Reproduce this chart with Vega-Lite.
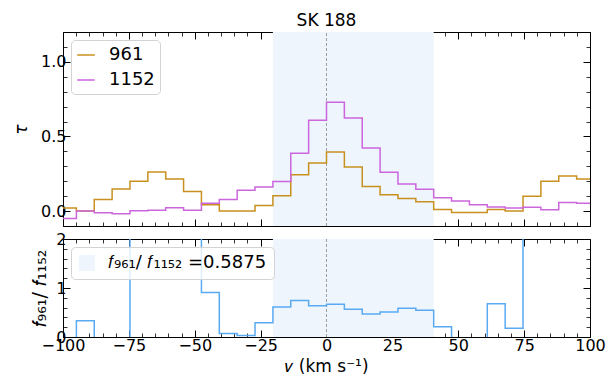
{
  "$schema": "https://vega.github.io/schema/vega-lite/v6.json",
  "background": "white",
  "padding": {"left": 12, "top": 11, "right": 5, "bottom": 0},
  "datasets": {
    "spec": [
      {"v": -101.7, "t961": 0.02, "t1152": -0.05, "ratio": -0.4},
      {"v": -94.92, "t961": 0.0, "t1152": 0.0, "ratio": 0.33},
      {"v": -88.14, "t961": 0.078, "t1152": -0.011, "ratio": -7.1},
      {"v": -81.36, "t961": 0.148, "t1152": -0.018, "ratio": -8.2},
      {"v": -74.58, "t961": 0.2, "t1152": 0.002, "ratio": 100},
      {"v": -67.8, "t961": 0.262, "t1152": 0.005, "ratio": 52},
      {"v": -61.02, "t961": 0.215, "t1152": 0.022, "ratio": 9.8},
      {"v": -54.24, "t961": 0.132, "t1152": 0.005, "ratio": 26},
      {"v": -47.46, "t961": 0.043, "t1152": 0.052, "ratio": 0.91},
      {"v": -40.68, "t961": 0.0, "t1152": 0.078, "ratio": 0.07},
      {"v": -33.9, "t961": 0.0, "t1152": 0.139, "ratio": 0.03},
      {"v": -27.12, "t961": 0.038, "t1152": 0.161, "ratio": 0.29},
      {"v": -20.34, "t961": 0.103, "t1152": 0.199, "ratio": 0.61},
      {"v": -13.56, "t961": 0.244, "t1152": 0.387, "ratio": 0.745},
      {"v": -6.78, "t961": 0.322, "t1152": 0.609, "ratio": 0.64},
      {"v": 0.0, "t961": 0.396, "t1152": 0.73, "ratio": 0.67},
      {"v": 6.78, "t961": 0.295, "t1152": 0.624, "ratio": 0.567},
      {"v": 13.56, "t961": 0.164, "t1152": 0.423, "ratio": 0.47},
      {"v": 20.34, "t961": 0.11, "t1152": 0.26, "ratio": 0.51},
      {"v": 27.12, "t961": 0.085, "t1152": 0.181, "ratio": 0.587},
      {"v": 33.9, "t961": 0.063, "t1152": 0.146, "ratio": 0.546},
      {"v": 40.68, "t961": 0.011, "t1152": 0.09, "ratio": 0.21},
      {"v": 47.46, "t961": -0.009, "t1152": 0.067, "ratio": -0.13},
      {"v": 54.24, "t961": -0.009, "t1152": 0.043, "ratio": -0.2},
      {"v": 61.02, "t961": 0.011, "t1152": 0.027, "ratio": 0.68},
      {"v": 67.8, "t961": 0.0, "t1152": 0.02, "ratio": 0.18},
      {"v": 74.58, "t961": 0.099, "t1152": 0.025, "ratio": 4.0},
      {"v": 81.36, "t961": 0.2, "t1152": 0.009, "ratio": 22},
      {"v": 88.14, "t961": 0.235, "t1152": 0.058, "ratio": 4.05},
      {"v": 94.92, "t961": 0.215, "t1152": 0.052, "ratio": 4.1},
      {"v": 101.7, "t961": 0.215, "t1152": 0.052, "ratio": 4.1}
    ],
    "win": [{"v1": -20.34, "v2": 40.68, "label": "𝑓₉₆₁/ 𝑓₁₁₅₂ =0.5875"}],
    "center": [{"v": 0}]
  },
  "config": {
    "font": "DejaVu Sans",
    "view": {"stroke": null},
    "axis": {
      "grid": false,
      "zindex": 1,
      "labelFlush": false,
      "labelOverlap": false,
      "domainColor": "#000",
      "domainWidth": 1,
      "tickColor": "#000",
      "tickWidth": 1,
      "labelFont": "DejaVu Sans",
      "labelFontSize": 16,
      "labelColor": "#000",
      "titleFont": "DejaVu Sans",
      "titleFontSize": 17,
      "titleFontWeight": "normal",
      "titleColor": "#000"
    },
    "legend": {
      "orient": "top-left",
      "title": null,
      "labelFont": "DejaVu Sans",
      "labelFontSize": 18,
      "labelColor": "#000",
      "strokeColor": "#d3d3d3",
      "fillColor": "rgba(255,255,255,0.8)",
      "cornerRadius": 4,
      "padding": 5,
      "offset": 8
    }
  },
  "resolve": {"scale": {"color": "independent", "fill": "independent"}, "legend": {"color": "independent", "fill": "independent"}},
  "spacing": 4,
  "vconcat": [
    {
      "width": 527,
      "height": 194,
      "title": {"text": "SK 188", "frame": "group", "fontSize": 17, "fontWeight": "normal", "font": "DejaVu Sans", "color": "#000", "offset": 2},
      "resolve": {"axis": {"x": "independent", "y": "independent"}},
      "layer": [
        {
          "data": {"name": "win"},
          "mark": {"type": "rect", "color": "#eef5fd"},
          "encoding": {
            "x": {"field": "v1", "type": "quantitative", "scale": {"domain": [-100, 100], "nice": false},
                  "axis": {"orient": "bottom", "values": [-100, -75, -50, -25, 0, 25, 50, 75, 100], "labels": false, "tickSize": -7, "title": null}},
            "x2": {"field": "v2"},
            "y": {"datum": -0.1, "type": "quantitative", "scale": {"domain": [-0.1, 1.2], "nice": false},
                  "axis": {"orient": "left", "values": [0, 0.5, 1], "format": ".1f", "tickSize": -7, "labelPadding": 4, "title": "τ", "titleFontStyle": "italic", "titlePadding": 10}},
            "y2": {"datum": 1.2}
          }
        },
        {
          "data": {"name": "center"},
          "mark": {"type": "rule", "color": "#888888", "strokeWidth": 0.8, "strokeDash": [3, 2]},
          "encoding": {
            "x": {"field": "v", "type": "quantitative",
                  "axis": {"orient": "top", "values": [-100, -75, -50, -25, 0, 25, 50, 75, 100], "labels": false, "tickSize": -7, "title": null}},
            "y": {"datum": -0.1, "type": "quantitative",
                  "axis": {"orient": "right", "values": [0, 0.5, 1], "labels": false, "tickSize": -7, "title": null}},
            "y2": {"datum": 1.2}
          }
        },
        {
          "data": {"name": "spec"},
          "mark": {"type": "line", "interpolate": "step-after", "strokeWidth": 1.5, "clip": true},
          "encoding": {
            "x": {"field": "v", "type": "quantitative",
                  "axis": {"orient": "bottom", "values": [-95, -90, -85, -80, -70, -65, -60, -55, -45, -40, -35, -30, -20, -15, -10, -5, 5, 10, 15, 20, 30, 35, 40, 45, 55, 60, 65, 70, 80, 85, 90, 95], "labels": false, "domain": false, "tickSize": -4, "tickWidth": 0.8, "title": null}},
            "y": {"field": "t961", "type": "quantitative",
                  "axis": {"orient": "left", "values": [-0.1, 0.1, 0.2, 0.3, 0.4, 0.6, 0.7, 0.8, 0.9, 1.1, 1.2], "labels": false, "domain": false, "tickSize": -4, "tickWidth": 0.8, "title": null}},
            "color": {"datum": "961", "type": "nominal",
                      "scale": {"domain": ["961", "1152"], "range": ["#c8901e", "#cc66dd"]},
                      "legend": {"symbolType": "stroke", "symbolSize": 310, "symbolStrokeWidth": 1.5, "labelOffset": 13, "rowPadding": 6}}
          }
        },
        {
          "data": {"name": "spec"},
          "mark": {"type": "line", "interpolate": "step-after", "strokeWidth": 1.5, "clip": true},
          "encoding": {
            "x": {"field": "v", "type": "quantitative",
                  "axis": {"orient": "top", "values": [-95, -90, -85, -80, -70, -65, -60, -55, -45, -40, -35, -30, -20, -15, -10, -5, 5, 10, 15, 20, 30, 35, 40, 45, 55, 60, 65, 70, 80, 85, 90, 95], "labels": false, "domain": false, "tickSize": -4, "tickWidth": 0.8, "title": null}},
            "y": {"field": "t1152", "type": "quantitative",
                  "axis": {"orient": "right", "values": [-0.1, 0.1, 0.2, 0.3, 0.4, 0.6, 0.7, 0.8, 0.9, 1.1, 1.2], "labels": false, "domain": false, "tickSize": -4, "tickWidth": 0.8, "title": null}},
            "color": {"datum": "1152", "type": "nominal"}
          }
        }
      ]
    },
    {
      "width": 527,
      "height": 98,
      "resolve": {"axis": {"x": "independent", "y": "independent"}},
      "layer": [
        {
          "data": {"name": "win"},
          "mark": {"type": "rect"},
          "encoding": {
            "x": {"field": "v1", "type": "quantitative", "scale": {"domain": [-100, 100], "nice": false},
                  "axis": {"orient": "bottom", "values": [-100, -75, -50, -25, 0, 25, 50, 75, 100], "format": ".0f", "tickSize": -7, "labelPadding": 7, "title": "𝑣 (km s⁻¹)", "titlePadding": 5}},
            "x2": {"field": "v2"},
            "y": {"datum": 0, "type": "quantitative", "scale": {"domain": [0, 2], "nice": false},
                  "axis": {"orient": "left", "values": [0, 1, 2], "format": ".0f", "labelOverlap": false, "labelBound": false, "tickSize": -7, "labelPadding": 4, "title": "𝑓₉₆₁/ 𝑓₁₁₅₂", "titleFontSize": 19, "titlePadding": 6}},
            "y2": {"datum": 2},
            "fill": {"field": "label", "type": "nominal", "scale": {"range": ["#eef5fd"]},
                     "legend": {"symbolType": "square", "symbolSize": 260, "labelOffset": 12, "symbolStrokeWidth": 0, "padding": 7}}
          }
        },
        {
          "data": {"name": "center"},
          "mark": {"type": "rule", "color": "#888888", "strokeWidth": 0.8, "strokeDash": [3, 2]},
          "encoding": {
            "x": {"field": "v", "type": "quantitative",
                  "axis": {"orient": "top", "values": [-100, -75, -50, -25, 0, 25, 50, 75, 100], "labels": false, "tickSize": -7, "title": null}},
            "y": {"datum": 0, "type": "quantitative",
                  "axis": {"orient": "right", "values": [0, 1, 2], "labels": false, "tickSize": -7, "title": null}},
            "y2": {"datum": 2}
          }
        },
        {
          "data": {"name": "spec"},
          "mark": {"type": "line", "interpolate": "step-after", "strokeWidth": 1.5, "clip": true, "color": "#5aaaf2"},
          "encoding": {
            "x": {"field": "v", "type": "quantitative",
                  "axis": {"orient": "bottom", "values": [-95, -90, -85, -80, -70, -65, -60, -55, -45, -40, -35, -30, -20, -15, -10, -5, 5, 10, 15, 20, 30, 35, 40, 45, 55, 60, 65, 70, 80, 85, 90, 95], "labels": false, "domain": false, "tickSize": -4, "tickWidth": 0.8, "title": null}},
            "y": {"field": "ratio", "type": "quantitative",
                  "axis": {"orient": "left", "values": [0.2, 0.4, 0.6, 0.8, 1.2, 1.4, 1.6, 1.8], "labels": false, "domain": false, "tickSize": -4, "tickWidth": 0.8, "title": null}}
          }
        },
        {
          "data": {"name": "center"},
          "mark": {"type": "rule", "opacity": 0},
          "encoding": {
            "x": {"field": "v", "type": "quantitative",
                  "axis": {"orient": "top", "values": [-95, -90, -85, -80, -70, -65, -60, -55, -45, -40, -35, -30, -20, -15, -10, -5, 5, 10, 15, 20, 30, 35, 40, 45, 55, 60, 65, 70, 80, 85, 90, 95], "labels": false, "domain": false, "tickSize": -4, "tickWidth": 0.8, "title": null}},
            "y": {"datum": 0, "type": "quantitative",
                  "axis": {"orient": "right", "values": [0.2, 0.4, 0.6, 0.8, 1.2, 1.4, 1.6, 1.8], "labels": false, "domain": false, "tickSize": -4, "tickWidth": 0.8, "title": null}},
            "y2": {"datum": 2}
          }
        }
      ]
    }
  ]
}
